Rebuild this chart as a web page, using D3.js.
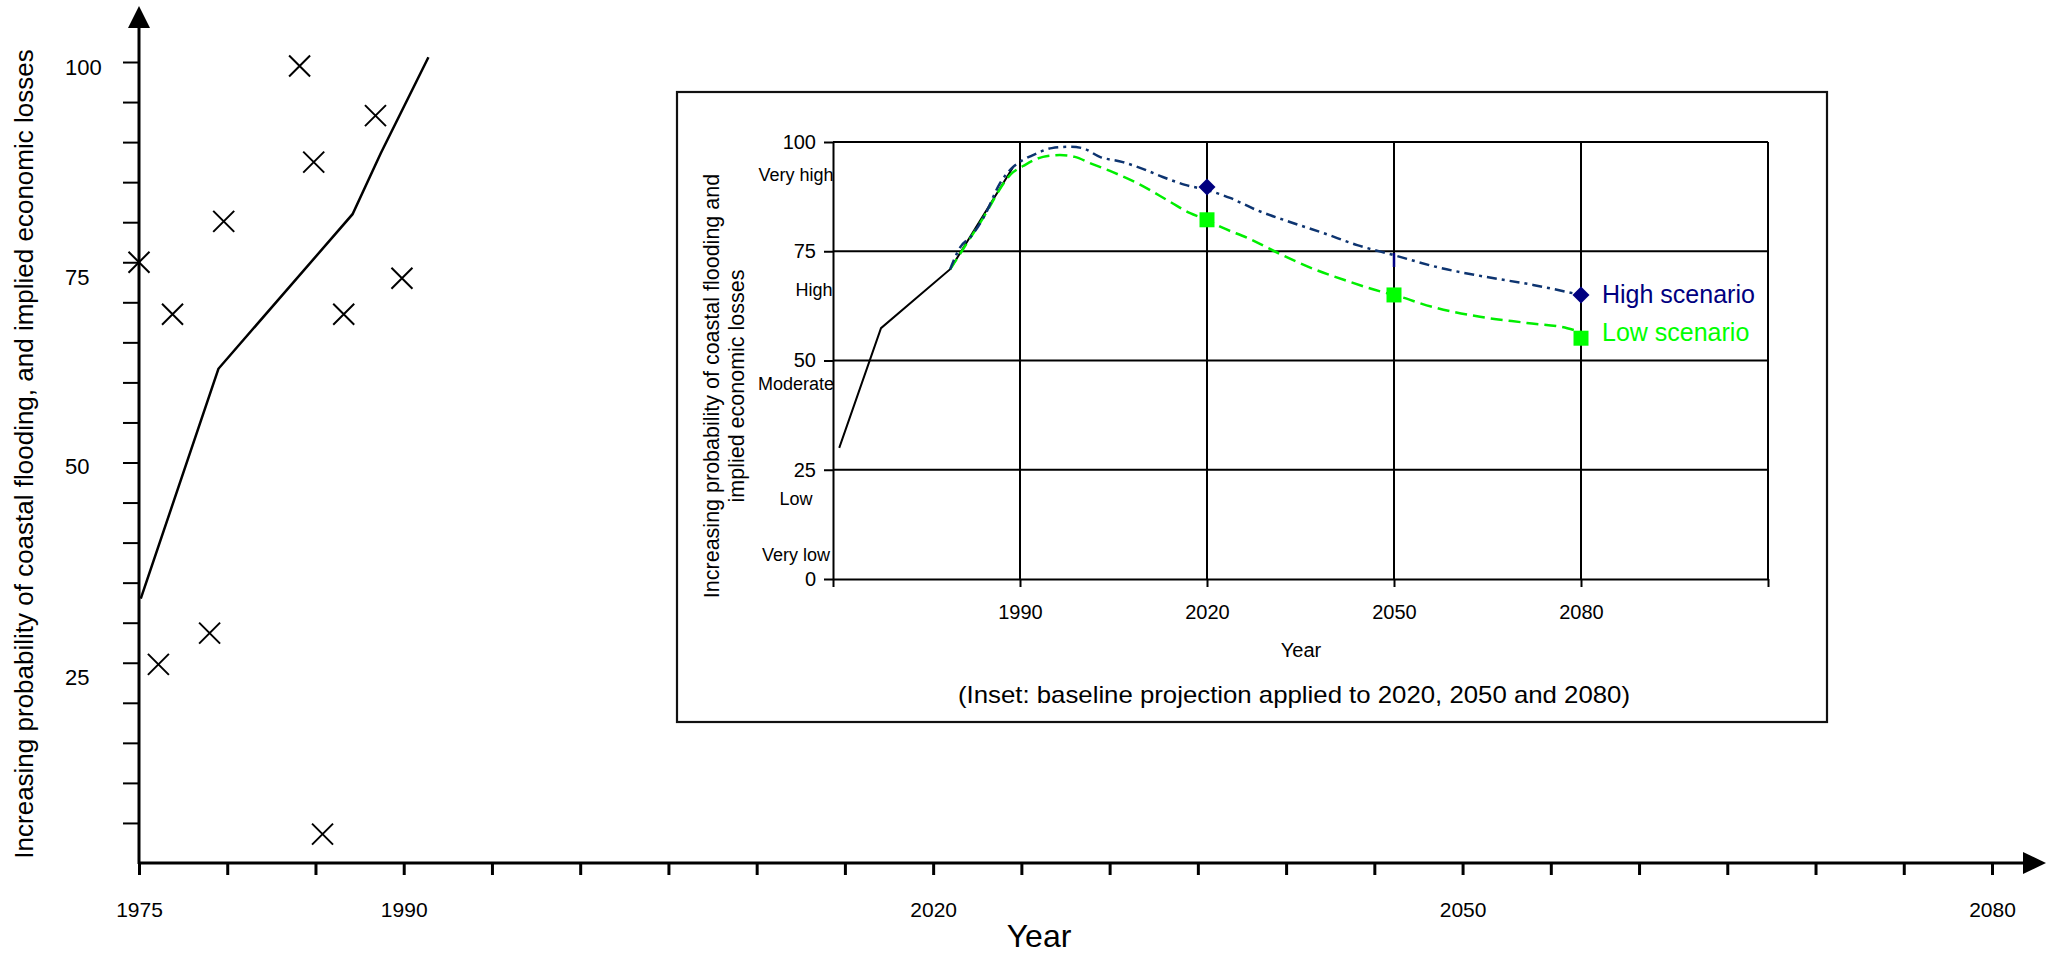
<!DOCTYPE html>
<html><head><meta charset="utf-8">
<script src="https://cdn.jsdelivr.net/npm/d3@7"></script>
<style>
html,body{margin:0;padding:0;background:#fff;}
svg{display:block;font-family:"Liberation Sans",Arial,Helvetica,sans-serif;}
</style>
</head><body>
<svg id="chart" width="2053" height="953"></svg>
<script>
// ---------- Main chart data ----------
const mainLineYears  = [1975.1, 1979.5, 1987.1, 1988.7, 1991.4];
const mainLineValues = [33.0, 61.7, 81.0, 88.6, 100.6];
const crossYears  = [1984.1, 1988.4, 1984.9, 1979.8, 1975.0, 1976.9, 1989.9, 1986.6, 1976.1, 1979.0, 1985.4];
const crossValues = [99.5, 93.3, 87.5, 80.1, 75.0, 68.5, 73.0, 68.5, 24.8, 28.7, 3.6];
const mainXTicks  = d3.range(1975, 2081, 5);
const mainXLabels = [1975, 1990, 2020, 2050, 2080];
const mainYTicks  = d3.range(5, 101, 5);
const mainYLabels = [25, 50, 75, 100];
const mainYTitle  = "Increasing probability of coastal flooding, and implied economic losses";
const mainXTitle  = "Year";

// ---------- Inset data ----------
const baseYears  = [1961.0, 1967.7, 1978.8, 1988.9];
const baseValues = [30.0, 57.4, 70.9, 94.3];
const highYears  = [1978.8, 1980.4, 1982.2, 1984.3, 1986.8, 1988.9, 1990.5, 1992.1, 1995.1, 1998.0, 2000.0, 2002.8, 2006.5, 2009.8, 2012.9, 2016.5, 2020.0, 2023.7, 2028.0, 2033.3, 2038.6, 2044.1, 2050.0, 2057.4, 2064.9, 2072.3, 2078.7, 2080.0];
const highValues = [70.9, 75.9, 78.5, 83.1, 90.6, 94.3, 95.9, 97.0, 98.6, 98.9, 98.6, 96.6, 95.4, 93.8, 92.0, 90.2, 89.0, 87.2, 84.4, 81.7, 79.2, 76.4, 74.1, 71.2, 69.1, 67.3, 65.4, 65.0];
const lowYears   = [1978.8, 1983.6, 1988.9, 1990.5, 1993.7, 1996.4, 1998.8, 2001.2, 2004.9, 2008.8, 2014.1, 2017.3, 2020.0, 2022.3, 2026.6, 2031.4, 2037.0, 2042.5, 2047.8, 2050.0, 2056.3, 2063.8, 2071.3, 2077.8, 2080.0];
const lowValues  = [70.9, 81.5, 93.1, 94.5, 96.6, 97.0, 96.6, 95.2, 93.1, 90.6, 86.3, 83.7, 82.2, 80.5, 78.0, 74.6, 71.0, 68.2, 65.8, 65.0, 62.2, 60.0, 58.6, 57.4, 56.5];
const markerYears      = [2020, 2050, 2080];
const highMarkerValues = [89.7, 73.0, 65.0];
const highMarkerShapes = ["diamond", "tick", "diamond"];
const lowMarkerValues  = [82.2, 65.0, 55.1];
const riskLabels = ["Very high", "High", "Moderate", "Low", "Very low"];
const riskLevels = [91.1, 64.8, 43.2, 16.9, 4.1];
const insetYTicks  = [0, 25, 50, 75, 100];
const insetXTicks  = [1960, 1990, 2020, 2050, 2080, 2110];
const insetXLabels = [1990, 2020, 2050, 2080];
const insetGridY   = [25, 50, 75, 100];
const insetGridX   = [1990, 2020, 2050, 2080, 2110];
const seriesNames  = ["High scenario", "Low scenario"];
const insetYTitle  = ["Increasing probability of coastal flooding and", "implied economic losses"];
const insetXTitle  = "Year";
const insetCaption = "(Inset: baseline projection applied to 2020, 2050 and 2080)";

// ---------- layout tweaks (not data) ----------
const mainYLabelDy = [22, 11, 23, 13];   // baseline offsets for the main y labels
const riskLabelDx  = [0, 18, 0, 0, 0];   // horizontal nudges for the risk labels

const svg = d3.select("#chart");

// ================= MAIN CHART =================
const x = d3.scaleLinear().domain([1975, 2080]).range([139, 1992]);
const y = d3.scaleLinear().domain([0, 100]).range([863, 62]);

const yAx = svg.append("g").attr("transform", `translate(${x(1975)},0)`)
  .call(d3.axisLeft(y).tickValues(mainYTicks).tickSize(16).tickSizeOuter(0).tickFormat(""));
yAx.select(".domain").remove();
yAx.selectAll(".tick line").attr("stroke", "#000").attr("stroke-width", 2);

svg.append("defs").append("clipPath").attr("id", "xclip")
  .append("rect").attr("x", 0).attr("y", 0).attr("width", 2053).attr("height", 915);
const xAx = svg.append("g").attr("transform", `translate(0,${y(0)})`).attr("clip-path", "url(#xclip)")
  .call(d3.axisBottom(x).tickValues(mainXTicks).tickSize(12).tickSizeOuter(0).tickPadding(27)
    .tickFormat(d => mainXLabels.includes(d) ? d : ""));
xAx.select(".domain").remove();
xAx.selectAll(".tick line").attr("stroke", "#000").attr("stroke-width", 3);
xAx.selectAll(".tick text").attr("fill", "#000").attr("font-size", 21).attr("font-family", "Liberation Sans, Arial, sans-serif");

svg.append("line").attr("x1", x(1975)).attr("x2", 2024).attr("y1", y(0)).attr("y2", y(0))
  .attr("stroke", "#000").attr("stroke-width", 3);
svg.append("path").attr("d", `M2023,${y(0) - 11} L2046,${y(0)} L2023,${y(0) + 11} Z`).attr("fill", "#000");
svg.append("line").attr("x1", x(1975)).attr("x2", x(1975)).attr("y1", y(0) + 1).attr("y2", 27)
  .attr("stroke", "#000").attr("stroke-width", 3);
svg.append("path").attr("d", `M${x(1975) - 11},28 L${x(1975)},6 L${x(1975) + 11},28 Z`).attr("fill", "#000");

svg.append("g").selectAll("text").data(mainYLabels).join("text")
  .attr("x", 65).attr("y", (d, i) => y(d) + mainYLabelDy[i])
  .attr("font-size", 22).attr("fill", "#000").text(d => d);

svg.append("text").attr("transform", `translate(33,454) rotate(-90)`)
  .attr("text-anchor", "middle").attr("font-size", 26).attr("fill", "#000").text(mainYTitle);
svg.append("text").attr("x", 1039).attr("y", 947).attr("text-anchor", "middle")
  .attr("font-size", 32).attr("fill", "#000").text(mainXTitle);

svg.append("path").datum(d3.zip(mainLineYears, mainLineValues))
  .attr("d", d3.line().x(d => x(d[0])).y(d => y(d[1])))
  .attr("fill", "none").attr("stroke", "#000").attr("stroke-width", 2.5);

const cs = 10.5;
svg.append("g").selectAll("path").data(d3.zip(crossYears, crossValues)).join("path")
  .attr("d", d => {
    const cx = x(d[0]), cy = y(d[1]);
    return `M${cx - cs},${cy - cs}L${cx + cs},${cy + cs}M${cx + cs},${cy - cs}L${cx - cs},${cy + cs}`;
  })
  .attr("stroke", "#000").attr("stroke-width", 2).attr("fill", "none");

// ================= INSET =================
svg.append("rect").attr("x", 677).attr("y", 92).attr("width", 1150).attr("height", 630)
  .attr("fill", "#fff").attr("stroke", "#111").attr("stroke-width", 2.2);

const xi = d3.scaleLinear().domain([1960, 2110]).range([833, 1768]);
const yi = d3.scaleLinear().domain([0, 100]).range([579, 142]);

const grid = svg.append("g").attr("stroke", "#000").attr("stroke-width", 2);
grid.selectAll("line.h").data(insetGridY).join("line").attr("class", "h")
  .attr("x1", xi(1960)).attr("x2", xi(2110)).attr("y1", d => yi(d)).attr("y2", d => yi(d));
grid.selectAll("line.v").data(insetGridX).join("line").attr("class", "v")
  .attr("x1", d => xi(d)).attr("x2", d => xi(d)).attr("y1", yi(100)).attr("y2", yi(0));

const yiAx = svg.append("g").attr("transform", `translate(${xi(1960)},0)`)
  .call(d3.axisLeft(yi).tickValues(insetYTicks).tickSize(9).tickSizeOuter(0).tickPadding(8));
yiAx.select(".domain").attr("stroke", "#000").attr("stroke-width", 2);
yiAx.selectAll(".tick line").attr("stroke", "#000").attr("stroke-width", 2);
yiAx.selectAll(".tick text").attr("fill", "#000").attr("font-size", 20).attr("font-family", "Liberation Sans, Arial, sans-serif");

const xiAx = svg.append("g").attr("transform", `translate(0,${yi(0)})`)
  .call(d3.axisBottom(xi).tickValues(insetXTicks).tickSize(8).tickSizeOuter(0).tickPadding(18)
    .tickFormat(d => insetXLabels.includes(d) ? d : ""));
xiAx.select(".domain").attr("stroke", "#000").attr("stroke-width", 2);
xiAx.selectAll(".tick line").attr("stroke", "#000").attr("stroke-width", 2);
xiAx.selectAll(".tick text").attr("fill", "#000").attr("font-size", 20).attr("font-family", "Liberation Sans, Arial, sans-serif");

svg.append("g").selectAll("text").data(d3.zip(riskLabels, riskLevels)).join("text")
  .attr("x", (d, i) => 796 + riskLabelDx[i]).attr("y", d => yi(d[1])).attr("text-anchor", "middle")
  .attr("font-size", 18).attr("fill", "#000").text(d => d[0]);

insetYTitle.forEach((t, i) => {
  svg.append("text").attr("transform", `translate(${719 + i * 25},386) rotate(-90)`)
    .attr("text-anchor", "middle").attr("font-size", 21.5).attr("fill", "#000").text(t);
});
svg.append("text").attr("x", 1301).attr("y", 657).attr("text-anchor", "middle")
  .attr("font-size", 20).attr("fill", "#000").text(insetXTitle);
svg.append("text").attr("x", 958).attr("y", 703).attr("font-size", 24)
  .attr("textLength", 672).attr("lengthAdjust", "spacingAndGlyphs").attr("fill", "#000").text(insetCaption);

const li = d3.line().x(d => xi(d[0])).y(d => yi(d[1]));
const lic = d3.line().x(d => xi(d[0])).y(d => yi(d[1])).curve(d3.curveMonotoneX);
svg.append("path").datum(d3.zip(baseYears, baseValues)).attr("d", li)
  .attr("fill", "none").attr("stroke", "#000").attr("stroke-width", 2);
svg.append("path").datum(d3.zip(lowYears, lowValues)).attr("d", lic)
  .attr("fill", "none").attr("stroke", "#00ee00").attr("stroke-width", 2.5).attr("stroke-dasharray", "12,6");
svg.append("path").datum(d3.zip(highYears, highValues)).attr("d", lic)
  .attr("fill", "none").attr("stroke", "#0d3470").attr("stroke-width", 2.5).attr("stroke-dasharray", "10,5,3,5");

svg.append("g").selectAll("path").data(d3.zip(markerYears, lowMarkerValues)).join("path")
  .attr("transform", d => `translate(${xi(d[0])},${yi(d[1])})`)
  .attr("d", d3.symbol(d3.symbolSquare, 225)).attr("fill", "#00ff00");
svg.append("g").selectAll("path").data(d3.zip(markerYears, highMarkerValues, highMarkerShapes)).join("path")
  .attr("transform", d => `translate(${xi(d[0])},${yi(d[1])})` + (d[2] === "diamond" ? " rotate(45)" : ""))
  .attr("d", d => d[2] === "diamond" ? d3.symbol(d3.symbolSquare, 144)() : "M0,-7L0,7")
  .attr("fill", "#000080").attr("stroke", d => d[2] === "diamond" ? "none" : "#000080").attr("stroke-width", 2.5);

svg.append("text").attr("x", 1602).attr("y", 303).attr("font-size", 25).attr("fill", "#000080").text(seriesNames[0]);
svg.append("text").attr("x", 1602).attr("y", 341).attr("font-size", 25).attr("fill", "#00ff00").text(seriesNames[1]);
</script>
</body></html>
